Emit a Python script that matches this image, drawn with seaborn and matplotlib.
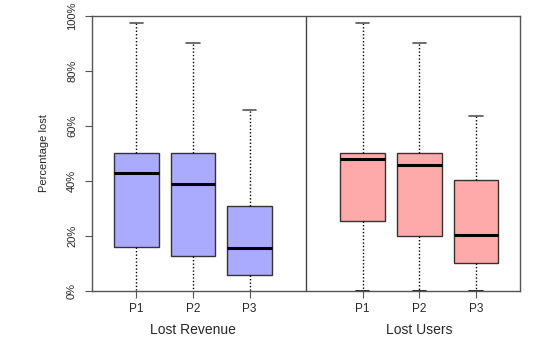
import numpy as np
import pandas as pd
import seaborn as sns
import matplotlib
matplotlib.use("Agg")
import matplotlib.pyplot as plt

sns.set_style("white")
plt.rcParams['font.family'] = ['Liberation Sans', 'DejaVu Sans']

# five-number summaries (min, q1, median, q3, max) in percent
groups = ["Lost Revenue", "Lost Users"]
categories = ["P1", "P2", "P3"]
revenue_p1 = [0, 16.0, 42.8, 50.0, 97.6]
revenue_p2 = [0, 12.7, 39.0, 50.0, 90.0]
revenue_p3 = [0, 5.7, 15.4, 30.7, 65.7]
users_p1 = [0, 25.3, 48.0, 50.0, 97.6]
users_p2 = [0, 20.0, 45.6, 50.0, 90.0]
users_p3 = [0, 10.1, 20.2, 40.3, 63.7]
yticks = [0, 20, 40, 60, 80, 100]
ytick_labels = ["0%", "20%", "40%", "60%", "80%", "100%"]
colors = {"Lost Revenue": "#AAAAFF", "Lost Users": "#FFAAAA"}

series = {
    ("Lost Revenue", "P1"): revenue_p1, ("Lost Revenue", "P2"): revenue_p2,
    ("Lost Revenue", "P3"): revenue_p3, ("Lost Users", "P1"): users_p1,
    ("Lost Users", "P2"): users_p2, ("Lost Users", "P3"): users_p3,
}
order = ["Lost Revenue|P1", "Lost Revenue|P2", "Lost Revenue|P3", "gap",
         "Lost Users|P1", "Lost Users|P2", "Lost Users|P3"]
rows = []
for (g, c), vals in series.items():
    for v in vals:
        rows.append({"slot": f"{g}|{c}", "group": g, "value": v})
df = pd.DataFrame(rows)

fig = plt.figure(figsize=(5.5, 3.39), dpi=100)
ax = fig.add_axes([0.1678, 0.1425, 0.9455 - 0.1678, 0.9528 - 0.1425])

sns.boxplot(data=df, x="slot", y="value", hue="group", order=order,
            palette=colors, saturation=1, whis=np.inf, width=0.79, dodge=False,
            linecolor="#333333", linewidth=1.0, legend=False, ax=ax,
            medianprops=dict(color="black", linewidth=2.2),
            whiskerprops=dict(color="black", linestyle=(0, (1, 1.5)), linewidth=1.0),
            capprops=dict(color="#555555", linewidth=1.2),
            boxprops=dict(edgecolor="#333333"))

# caps width half the box, hide lower caps of left panel
for line in ax.lines:
    xd = np.asarray(line.get_xdata(), dtype=float)
    yd = np.asarray(line.get_ydata(), dtype=float)
    if len(xd) == 2 and yd[0] == yd[1] and xd[0] != xd[1]:
        cx = xd.mean()
        half = (xd[1] - xd[0]) / 2
        if line.get_color() in ("black", "k") or line.get_linewidth() > 2:
            continue
        line.set_xdata([cx - half * 0.6, cx + half * 0.6])
        if yd[0] == 0 and cx < 3:
            line.set_visible(False)
        elif yd[0] == 0:
            line.set_color("black")

ax.set_xlim(-0.78, 6.78)
ax.set_ylim(0, 100)
ax.axvline(3, color="#444444", linewidth=1.0)
ax.set_xticks([0, 1, 2, 4, 5, 6])
ax.set_xticklabels(categories + categories, fontsize=8.5)
ax.set_yticks(yticks)
ax.set_yticklabels(ytick_labels, fontsize=8, rotation=90, va="center")
ax.tick_params(axis="both", direction="out", length=5, width=0.8, color="#555555",
               bottom=True, left=True, pad=4)
ax.tick_params(axis="y", pad=6)
for s in ax.spines.values():
    s.set_color("#555555")
    s.set_linewidth(1.0)
ax.set_xlabel("")
ax.set_ylabel("Percentage lost", fontsize=8, labelpad=13)
ax.text(1, -0.143, "Lost Revenue", transform=ax.get_xaxis_transform(),
        ha="center", va="center", fontsize=10)
ax.text(5, -0.143, "Lost Users", transform=ax.get_xaxis_transform(),
        ha="center", va="center", fontsize=10)
fig.savefig("out.png", dpi=100)
